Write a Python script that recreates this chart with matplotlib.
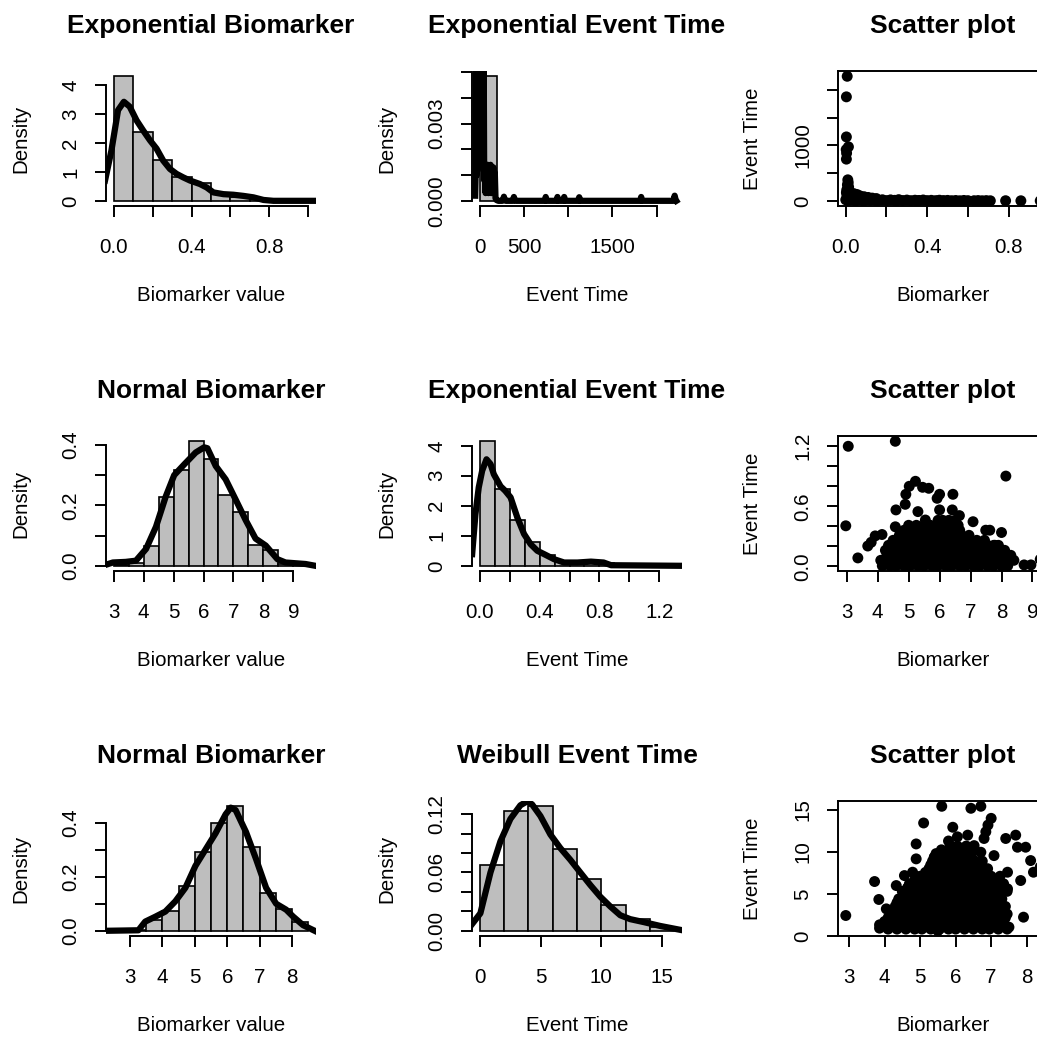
import matplotlib
matplotlib.use("Agg")
import matplotlib.pyplot as plt

W, H, DPI = 1037, 1039, 100
plt.rcParams['font.family'] = ['Liberation Sans', 'DejaVu Sans']

FS = 14.8     # axis / tick label size (pt)
TFS = 19.0    # title size (pt)
GRAY = '#BEBEBE'
MS = 62       # scatter marker area (pt^2)

# ---------------- data ----------------
# Row 1, col 1: Exponential Biomarker histogram + density
p1_breaks = [0.0, 0.1, 0.2, 0.3, 0.4, 0.5, 0.6, 0.7, 0.8, 0.9, 1.0]
p1_dens = [4.30, 2.38, 1.40, 0.83, 0.60, 0.24, 0.12, 0.07, 0.03, 0.01]
p1_kde_x = [-0.045, -0.012, 0.022, 0.052, 0.082, 0.117, 0.151, 0.186, 0.22, 0.254, 0.289,
            0.323, 0.357, 0.392, 0.443, 0.478, 0.512, 0.564, 0.615, 0.667, 0.718, 0.77,
            0.821, 1.045]
p1_kde_y = [0.70, 1.74, 3.13, 3.42, 3.25, 2.78, 2.43, 2.09, 1.80, 1.39, 1.10, 0.93, 0.81,
            0.70, 0.58, 0.46, 0.29, 0.23, 0.21, 0.17, 0.12, 0.03, 0.0, 0.0]

# Row 1, col 2: Exponential Event Time (heavy tail)
p2_breaks = [0, 200, 400, 600, 800, 1000, 1200, 1400, 1600, 1800, 2000, 2200]
p2_dens = [0.00484, 0.00009, 0.00002, 0.00001, 0.00001, 0.00001, 0.0, 0.0, 0.00001, 0.0, 0.00001]
p2_kde = [(-52, 0.0002), (-46, 0.0012), (-40, 0.0065), (-34, 0.0010), (-28, 0.0090),
          (-22, 0.0015), (-16, 0.0120), (-10, 0.0020), (-4, 0.0150), (2, 0.0030),
          (8, 0.0140), (14, 0.0025), (20, 0.0110), (26, 0.0020), (32, 0.0080),
          (38, 0.0012), (44, 0.0060), (50, 0.0008), (58, 0.0014), (66, 0.0003),
          (74, 0.0013), (82, 0.0004), (90, 0.0014), (98, 0.0003), (106, 0.0013),
          (114, 0.0005), (122, 0.0014), (130, 0.0003), (138, 0.0012), (146, 0.0004),
          (154, 0.0013), (162, 0.0003), (170, 0.0011), (178, 0.0001), (190, 0.00003),
          (210, 0.0), (255, 0.0), (265, 0.00005), (273, 0.00016), (281, 0.00005),
          (295, 0.0), (372, 0.0), (380, 0.00006), (386, 0.00015), (392, 0.00006),
          (405, 0.0), (735, 0.0), (746, 0.00015), (757, 0.0), (868, 0.0),
          (879, 0.00015), (890, 0.0), (944, 0.0), (955, 0.00015), (966, 0.0),
          (1114, 0.0), (1125, 0.00014), (1136, 0.0), (1815, 0.0), (1826, 0.00015),
          (1837, 0.0), (2190, 0.0), (2205, 0.0002), (2215, 0.00005), (2224, 0.0)]

# Row 1, col 3: scatter exponential biomarker vs exponential event time
s1_points = [(0.007, 2248), (0.003, 1877), (0.003, 1154), (0.013, 975), (0.002, 925),
             (0.004, 860), (0.003, 753),
             (0.010, 380), (0.012, 330), (0.008, 290), (0.014, 250), (0.005, 200),
             (0.018, 175), (0.003, 150), (0.025, 140), (0.040, 130), (0.055, 115),
             (0.070, 90), (0.090, 75), (0.110, 62), (0.130, 50), (0.150, 42),
             (0.006, 100), (0.020, 80), (0.035, 60), (0.050, 45), (0.008, 40), (0.030, 25),
             (0.000, 20), (0.020, 35), (0.040, 15), (0.060, 30), (0.080, 10), (0.100, 25),
             (0.120, 12), (0.140, 28), (0.160, 8), (0.180, 20), (0.200, 5), (0.220, 18),
             (0.240, 10), (0.260, 22), (0.280, 6), (0.300, 15), (0.320, 4), (0.340, 12),
             (0.360, 8), (0.380, 16), (0.400, 5), (0.420, 10), (0.440, 3), (0.460, 12),
             (0.480, 6), (0.500, 9), (0.520, 3), (0.540, 7), (0.560, 2), (0.580, 8),
             (0.600, 4), (0.630, 3), (0.650, 6), (0.670, 2), (0.690, 5), (0.710, 2),
             (0.785, 3), (0.860, 2), (0.955, 1),
             (0.010, 5), (0.050, 3), (0.090, 2), (0.150, 1), (0.250, 2), (0.350, 1), (0.450, 1)]

# Row 2, col 1: Normal Biomarker
p4_breaks = [3.0, 3.5, 4.0, 4.5, 5.0, 5.5, 6.0, 6.5, 7.0, 7.5, 8.0, 8.5, 9.0, 9.5]
p4_dens = [0.004, 0.010, 0.067, 0.227, 0.316, 0.412, 0.353, 0.235, 0.179, 0.069, 0.053, 0.006, 0.004]
p4_kde_x = [2.72, 2.97, 3.40, 3.74, 4.08, 4.41, 4.74, 5.02, 5.36, 5.74, 6.02, 6.13, 6.41,
            6.74, 7.08, 7.41, 7.74, 8.08, 8.47, 8.74, 9.41, 9.74]
p4_kde_y = [0.003, 0.011, 0.013, 0.017, 0.056, 0.129, 0.230, 0.300, 0.336, 0.375, 0.392,
            0.389, 0.330, 0.286, 0.218, 0.151, 0.090, 0.067, 0.022, 0.011, 0.006, 0.0]

# Row 2, col 2: Exponential Event Time
p5_breaks = [0.0, 0.1, 0.2, 0.3, 0.4, 0.5, 0.6, 0.7, 0.8, 0.9, 1.0, 1.1, 1.2, 1.3]
p5_dens = [4.15, 2.55, 1.52, 0.80, 0.35, 0.13, 0.10, 0.12, 0.10, 0.06, 0.0, 0.02, 0.02]
p5_kde_x = [-0.051, -0.029, -0.007, 0.016, 0.045, 0.072, 0.094, 0.139, 0.17, 0.206,
            0.251, 0.296, 0.340, 0.385, 0.430, 0.497, 0.564, 0.653, 0.743, 0.828, 0.878, 1.359]
p5_kde_y = [0.39, 1.72, 2.61, 3.17, 3.55, 3.39, 3.05, 2.65, 2.50, 2.28, 1.61, 1.06, 0.72,
            0.50, 0.39, 0.22, 0.11, 0.11, 0.14, 0.11, 0.02, 0.0]

# Row 2, col 3: scatter normal biomarker vs exponential event time
s2_extra = [(3.05, 1.20), (4.57, 1.25), (2.97, 0.405), (3.36, 0.084), (3.68, 0.203),
            (3.92, 0.304), (4.14, 0.318), (3.79, 0.24), (4.57, 0.395), (4.59, 0.564),
            (4.89, 0.62), (4.91, 0.72), (5.02, 0.80), (5.22, 0.85), (5.45, 0.79),
            (5.65, 0.78), (5.30, 0.547), (5.54, 0.463), (5.92, 0.68), (6.00, 0.72),
            (6.00, 0.564), (6.43, 0.72), (6.41, 0.564), (6.64, 0.507), (7.08, 0.446),
            (7.49, 0.361), (7.62, 0.361), (8.00, 0.338), (8.14, 0.902), (7.79, 0.21),
            (8.03, 0.135), (8.24, 0.091), (8.73, 0.014), (8.95, 0.014), (9.25, 0.07),
            (4.19, 0.034)]
s2_rows = {
    0.005: [4.15, 4.4, 4.6, 4.85, 5.05, 5.3, 5.5, 5.75, 5.95, 6.2, 6.4, 6.65, 6.85, 7.1,
            7.3, 7.55, 7.75, 8.0, 8.2],
    0.06: [4.1, 4.35, 4.55, 4.8, 5.0, 5.25, 5.45, 5.7, 5.9, 6.15, 6.35, 6.6, 6.8, 7.05,
           7.25, 7.5, 7.7, 7.95, 8.25, 8.4],
    0.11: [4.3, 4.5, 4.75, 4.95, 5.2, 5.4, 5.65, 5.85, 6.1, 6.3, 6.55, 6.75, 7.0, 7.2,
           7.45, 7.65, 7.9, 8.1, 8.3],
    0.16: [4.25, 4.45, 4.7, 4.9, 5.15, 5.35, 5.6, 5.8, 6.05, 6.25, 6.5, 6.7, 6.95, 7.15,
           7.4, 7.6, 7.85, 8.1],
    0.21: [4.35, 4.6, 4.8, 5.05, 5.25, 5.5, 5.7, 5.95, 6.15, 6.4, 6.6, 6.85, 7.05, 7.3,
           7.55, 7.75, 7.9],
    0.26: [4.5, 4.75, 4.95, 5.2, 5.4, 5.65, 5.85, 6.1, 6.3, 6.55, 6.75, 7.0, 7.2, 7.45],
    0.31: [4.7, 4.9, 5.15, 5.35, 5.6, 5.8, 6.05, 6.25, 6.5, 6.7, 6.95],
    0.36: [4.85, 5.1, 5.3, 5.55, 5.75, 6.0, 6.2, 6.45, 6.65],
    0.41: [5.0, 5.25, 5.5, 5.7, 5.95, 6.2, 6.4, 6.6],
    0.46: [5.95, 6.1, 6.3, 6.5],
}

# Row 3, col 1: Normal Biomarker
p7_breaks = [2.5, 3.0, 3.5, 4.0, 4.5, 5.0, 5.5, 6.0, 6.5, 7.0, 7.5, 8.0, 8.5]
p7_dens = [0.0, 0.003, 0.04, 0.075, 0.165, 0.29, 0.40, 0.46, 0.31, 0.14, 0.08, 0.034]
p7_kde_x = [2.2, 3.26, 3.47, 3.78, 4.09, 4.40, 4.71, 5.02, 5.33, 5.64, 5.95, 6.11, 6.26,
            6.58, 6.89, 7.20, 7.51, 7.82, 8.03, 8.34, 8.70]
p7_kde_y = [0.0, 0.002, 0.034, 0.052, 0.071, 0.109, 0.159, 0.24, 0.30, 0.36, 0.43, 0.455,
            0.446, 0.365, 0.265, 0.159, 0.10, 0.078, 0.053, 0.021, 0.0]

# Row 3, col 2: Weibull Event Time
p8_breaks = [0, 2, 4, 6, 8, 10, 12, 14, 16]
p8_dens = [0.068, 0.123, 0.128, 0.084, 0.053, 0.027, 0.012, 0.004]
p8_kde_x = [-0.63, 0.05, 0.88, 1.70, 2.52, 3.34, 3.89, 4.30, 4.99, 5.81, 6.63, 7.45, 8.27,
            9.10, 9.92, 10.74, 11.56, 12.38, 13.48, 14.85, 16.5]
p8_kde_y = [0.007, 0.018, 0.060, 0.092, 0.115, 0.129, 0.133, 0.130, 0.118, 0.099, 0.085,
            0.073, 0.060, 0.047, 0.035, 0.025, 0.016, 0.012, 0.009, 0.005, 0.001]

# Row 3, col 3: scatter normal biomarker vs Weibull event time
s3_extra = [(2.91, 2.42), (3.72, 6.47), (3.84, 4.33), (3.86, 1.31), (3.86, 0.91),
            (5.61, 15.44), (5.10, 13.45), (6.43, 15.2), (6.71, 15.44), (7.00, 14.0),
            (6.91, 13.2), (5.92, 12.94), (6.34, 12.0), (7.69, 12.0), (7.41, 11.6),
            (7.74, 10.56), (7.97, 10.56), (8.11, 8.97), (8.19, 7.58), (7.91, 2.22),
            (7.50, 1.03), (4.89, 10.95), (4.89, 9.17), (5.40, 9.37), (6.52, 10.75),
            (6.71, 9.96), (7.08, 9.56), (7.46, 7.58), (7.83, 6.59), (7.46, 5.6),
            (4.33, 5.99), (4.56, 7.18), (4.79, 7.58), (4.05, 3.21), (4.19, 2.02),
            (4.47, 1.23), (4.61, 4.4), (5.80, 11.3), (6.05, 11.8), (6.85, 12.4),
            (6.80, 11.6), (5.5, 0.6), (8.38, 8.2)]
s3_rows = {
    0.8: [4.1, 4.35, 4.6, 4.85, 5.05, 5.3, 5.55, 5.8, 6.0, 6.25, 6.5, 6.75, 6.95, 7.2, 7.45],
    1.25: [4.15, 4.4, 4.65, 4.9, 5.15, 5.4, 5.6, 5.85, 6.1, 6.35, 6.55, 6.8, 7.05, 7.3],
    1.7: [4.0, 4.25, 4.5, 4.75, 4.95, 5.2, 5.45, 5.7, 5.9, 6.15, 6.4, 6.6, 6.85, 7.1, 7.35],
    2.15: [4.1, 4.35, 4.6, 4.85, 5.1, 5.3, 5.55, 5.75, 6.0, 6.25, 6.45, 6.7, 6.95, 7.2, 7.4],
    2.6: [4.2, 4.45, 4.7, 4.9, 5.15, 5.35, 5.6, 5.8, 6.05, 6.3, 6.5, 6.75, 7.0, 7.25, 7.45],
    3.05: [4.25, 4.5, 4.75, 5.0, 5.2, 5.45, 5.7, 5.9, 6.15, 6.35, 6.6, 6.85, 7.1, 7.3],
    3.5: [4.3, 4.55, 4.8, 5.05, 5.25, 5.5, 5.75, 5.95, 6.2, 6.4, 6.65, 6.9, 7.15, 7.4],
    3.95: [4.35, 4.6, 4.9, 5.1, 5.35, 5.6, 5.8, 6.05, 6.25, 6.5, 6.75, 7.0, 7.25],
    4.4: [4.4, 4.65, 4.95, 5.15, 5.4, 5.65, 5.85, 6.1, 6.3, 6.55, 6.8, 7.05, 7.3],
    4.85: [4.55, 4.85, 5.1, 5.35, 5.6, 5.8, 6.05, 6.25, 6.5, 6.75, 7.0, 7.25],
    5.3: [4.5, 4.8, 5.05, 5.3, 5.55, 5.75, 6.0, 6.2, 6.45, 6.7, 6.95, 7.2, 7.45],
    5.75: [4.65, 4.9, 5.15, 5.4, 5.6, 5.85, 6.05, 6.3, 6.5, 6.75, 7.0, 7.3],
    6.2: [4.7, 4.95, 5.2, 5.45, 5.65, 5.9, 6.1, 6.35, 6.6, 6.85, 7.1, 7.35],
    6.65: [4.85, 5.1, 5.35, 5.55, 5.8, 6.05, 6.25, 6.5, 6.7, 6.95, 7.2],
    7.1: [5.0, 5.3, 5.55, 5.8, 6.0, 6.25, 6.5, 6.75, 7.0, 7.25],
    7.55: [5.15, 5.4, 5.65, 5.9, 6.1, 6.35, 6.6, 6.85],
    8.0: [5.25, 5.5, 5.7, 5.95, 6.15, 6.4, 6.65, 6.9],
    8.45: [5.3, 5.55, 5.8, 6.0, 6.25, 6.5, 6.7],
    8.9: [5.35, 5.6, 5.85, 6.05, 6.3, 6.55, 6.75],
    9.35: [5.4, 5.65, 5.9, 6.1, 6.35],
    9.8: [5.45, 5.75, 5.95, 6.2, 6.45],
    10.25: [5.6, 5.95, 6.2, 6.4],
    10.7: [5.85, 6.05, 6.3],
}

titles = [["Exponential Biomarker", "Exponential Event Time", "Scatter plot"],
          ["Normal Biomarker", "Exponential Event Time", "Scatter plot"],
          ["Normal Biomarker", "Weibull Event Time", "Scatter plot"]]
xlabels = ["Biomarker value", "Event Time", "Biomarker"]
ylabels = ["Density", "Density", "Event Time"]

# ---------------- layout ----------------
fig = plt.figure(figsize=(W / DPI, H / DPI), dpi=DPI)
COL_LEFT = [106, 472, 838]
ROW_TOP = [71.3, 436.3, 801.3]
PW, PH = 210, 134.5


def rlim(lo, hi):
    d = (hi - lo) * 0.04
    return lo - d, hi + d


def make_ax(r, c):
    l, t = COL_LEFT[c], ROW_TOP[r]
    ax = fig.add_axes([l / W, 1 - (t + PH) / H, PW / W, PH / H])
    cx = l + PW / 2
    fig.text(cx / W, 1 - (t - 38.7) / H, titles[r][c], ha='center', va='baseline',
             fontsize=TFS, fontweight='bold')
    fig.text(cx / W, 1 - (t + PH + 95) / H, xlabels[c], ha='center', va='baseline',
             fontsize=FS)
    fig.text((l - 80) / W, 1 - (t + PH / 2) / H, ylabels[c], ha='center', va='baseline',
             rotation=90, rotation_mode='anchor', fontsize=FS)
    return ax


def style(ax, xt, xl, yt, yl, boxed):
    ax.set_xticks(xt)
    ax.set_xticklabels(xl)
    ax.set_yticks(yt)
    ax.set_yticklabels(yl, rotation=90, va='center')
    ax.tick_params(axis='x', direction='out', length=8, width=1.4, labelsize=FS, pad=15)
    ax.tick_params(axis='y', direction='out', length=8, width=1.4, labelsize=FS, pad=10.5)
    for sp in ax.spines.values():
        sp.set_linewidth(1.4)
    if not boxed:
        ax.spines['top'].set_visible(False)
        ax.spines['right'].set_visible(False)
        ax.spines['left'].set_bounds(yt[0], yt[-1])
        ax.spines['bottom'].set_bounds(xt[0], xt[-1])


def hist_panel(r, c, breaks, dens, kx, ky, xt, xl, yt, yl):
    ax = make_ax(r, c)
    lefts = breaks[:-1]
    widths = [b - a for a, b in zip(breaks[:-1], breaks[1:])]
    ax.bar(lefts, dens, width=widths, align='edge', color=GRAY, edgecolor='black',
           linewidth=1.2)
    ax.plot(kx, ky, color='black', linewidth=4.5, solid_joinstyle='round')
    ax.set_xlim(*rlim(breaks[0], breaks[-1]))
    ax.set_ylim(*rlim(0, max(dens)))
    style(ax, xt, xl, yt, yl, boxed=False)
    return ax


def scatter_panel(r, c, pts, xt, xl, yt, yl):
    ax = make_ax(r, c)
    xs = [p[0] for p in pts]
    ys = [p[1] for p in pts]
    ax.scatter(xs, ys, s=MS, color='black', edgecolors='none')
    ax.set_xlim(*rlim(min(xs), max(xs)))
    ax.set_ylim(*rlim(min(ys), max(ys)))
    style(ax, xt, xl, yt, yl, boxed=True)
    return ax


def rows_to_points(rows):
    return [(x, y) for y, xs in rows.items() for x in xs]


# Row 1
hist_panel(0, 0, p1_breaks, p1_dens, p1_kde_x, p1_kde_y,
           [0.0, 0.2, 0.4, 0.6, 0.8, 1.0], ['0.0', '', '0.4', '', '0.8', ''],
           [0, 1, 2, 3, 4], ['0', '1', '2', '3', '4'])
p2_kx = [p[0] for p in p2_kde]
p2_ky = [p[1] for p in p2_kde]
hist_panel(0, 1, p2_breaks, p2_dens, p2_kx, p2_ky,
           [0, 500, 1000, 1500, 2000], ['0', '500', '', '1500', ''],
           [0, 0.001, 0.002, 0.003, 0.004, 0.005], ['0.000', '', '', '0.003', '', ''])
scatter_panel(0, 2, s1_points,
              [0.0, 0.2, 0.4, 0.6, 0.8], ['0.0', '', '0.4', '', '0.8'],
              [0, 500, 1000, 1500, 2000], ['0', '', '1000', '', ''])

# Row 2
hist_panel(1, 0, p4_breaks, p4_dens, p4_kde_x, p4_kde_y,
           [3, 4, 5, 6, 7, 8, 9], ['3', '4', '5', '6', '7', '8', '9'],
           [0, 0.1, 0.2, 0.3, 0.4], ['0.0', '', '0.2', '', '0.4'])
hist_panel(1, 1, p5_breaks, p5_dens, p5_kde_x, p5_kde_y,
           [0.0, 0.2, 0.4, 0.6, 0.8, 1.0, 1.2], ['0.0', '', '0.4', '', '0.8', '', '1.2'],
           [0, 1, 2, 3, 4], ['0', '1', '2', '3', '4'])
scatter_panel(1, 2, s2_extra + rows_to_points(s2_rows),
              [3, 4, 5, 6, 7, 8, 9], ['3', '4', '5', '6', '7', '8', '9'],
              [0, 0.2, 0.4, 0.6, 0.8, 1.0, 1.2], ['0.0', '', '', '0.6', '', '', '1.2'])

# Row 3
hist_panel(2, 0, p7_breaks, p7_dens, p7_kde_x, p7_kde_y,
           [3, 4, 5, 6, 7, 8], ['3', '4', '5', '6', '7', '8'],
           [0, 0.1, 0.2, 0.3, 0.4], ['0.0', '', '0.2', '', '0.4'])
hist_panel(2, 1, p8_breaks, p8_dens, p8_kde_x, p8_kde_y,
           [0, 5, 10, 15], ['0', '5', '10', '15'],
           [0, 0.02, 0.04, 0.06, 0.08, 0.10, 0.12], ['0.00', '', '', '0.06', '', '', '0.12'])
scatter_panel(2, 2, s3_extra + rows_to_points(s3_rows),
              [3, 4, 5, 6, 7, 8], ['3', '4', '5', '6', '7', '8'],
              [0, 5, 10, 15], ['0', '5', '10', '15'])

fig.savefig("out.png", dpi=DPI)
